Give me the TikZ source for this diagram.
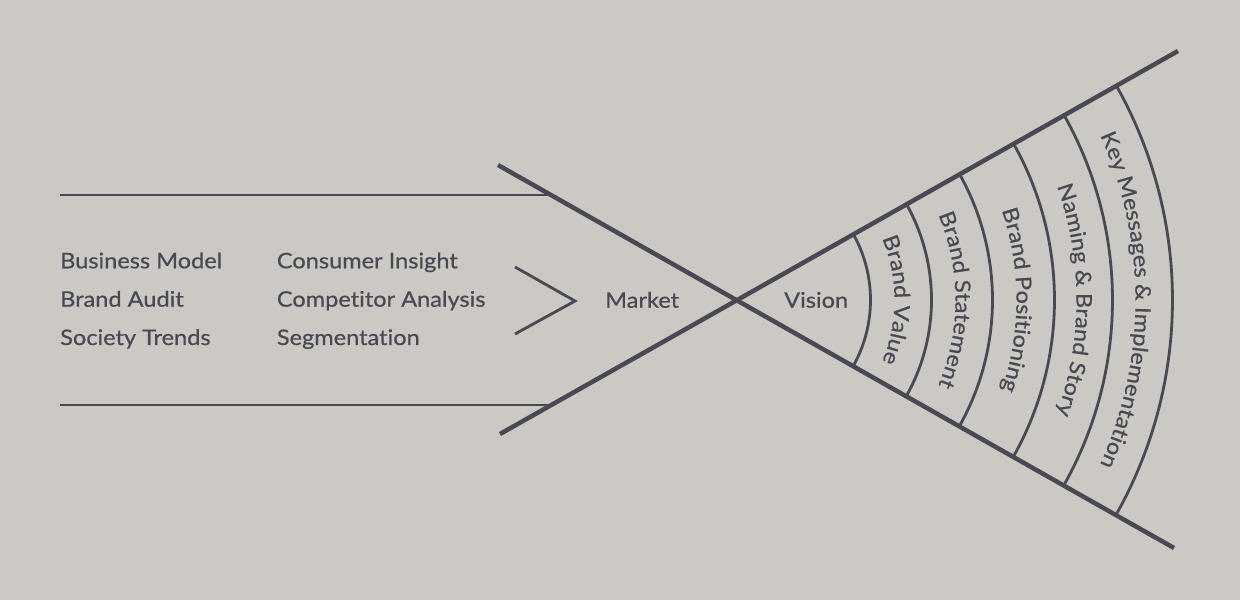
\documentclass[tikz,border=0pt]{standalone}
\usepackage{fontspec}
\setmainfont{Lato}[FakeStretch=1.1, FakeBold=0.6, Ligatures=NoCommon]
\usetikzlibrary{decorations.text}
\definecolor{bg}{HTML}{CCC9C4}
\definecolor{ink}{HTML}{4A4953}
\newcommand{\lblfont}{\fontsize{21.5}{25}\selectfont}
\begin{document}
\begin{tikzpicture}[x=1bp,y=-1bp,
  lbl/.style={anchor=base west, inner sep=0, text=ink, font=\lblfont},
  heavyline/.style={draw=ink, line width=4.5bp},
  lightline/.style={draw=ink, line width=2.8bp},
  arctext/.style={decorate, decoration={text along path, text align=center,
     text={|\color{ink}\lblfont|#1}}}
  ]
\fill[bg] (0,0) rectangle (1240,600);
\useasboundingbox (0,0) rectangle (1240,600);
\coordinate (C) at (735.5,300);
\coordinate (xa) at (498,165); \coordinate (xb) at (1174,548);
\coordinate (xc) at (500,434); \coordinate (xd) at (1178,51);
\coordinate (ht1) at (60,195); \coordinate (ht2) at (548,195);
\coordinate (hb1) at (60,405); \coordinate (hb2) at (548,405);
\coordinate (ch1) at (515,267); \coordinate (ch2) at (575,301); \coordinate (ch3) at (515,334);
\draw[lightline] (ht1) -- (ht2);
\draw[lightline] (hb1) -- (hb2);
\draw[heavyline] (xa) -- (xb);
\draw[heavyline] (xc) -- (xd);
\draw[lightline] (ch1) -- (ch2) -- (ch3);
\foreach \r in {135,196,257,319,377,437}
  \draw[lightline] ([shift={(C)}]-29.5:\r) arc[start angle=-29.5, end angle=29.5, radius=\r];
\node[lbl] (bm) at (60,268.3) {Business Model};
\node[lbl] (ba) at (60,306.7) {Brand Audit};
\node[lbl] (st) at (60,345) {Society Trends};
\node[lbl] (ci) at (276.7,268.3) {Consumer Insight};
\node[lbl] (ca) at (276.7,306.7) {Competitor Analysis};
\node[lbl] (sg) at (276.7,345) {Segmentation};
\node[lbl] (mk) at (605,307.7) {Market};
\node[lbl] (vi) at (784,307.7) {Vision};
\path[arctext={Brand Value}] ([shift={(C)}]-29.5:159) arc[start angle=-29.5, end angle=29.5, radius=159];
\path[arctext={Brand Statement}] ([shift={(C)}]-29.5:220) arc[start angle=-29.5, end angle=29.5, radius=220];
\path[arctext={Brand Positioning}] ([shift={(C)}]-29.5:281) arc[start angle=-29.5, end angle=29.5, radius=281];
\path[arctext={Naming {\&} Brand Story}] ([shift={(C)}]-29.5:341) arc[start angle=-29.5, end angle=29.5, radius=341];
\path[arctext={Key Messages {\&} Implementation}] ([shift={(C)}]-29.5:400) arc[start angle=-29.5, end angle=29.5, radius=400];
\end{tikzpicture}
\end{document}
